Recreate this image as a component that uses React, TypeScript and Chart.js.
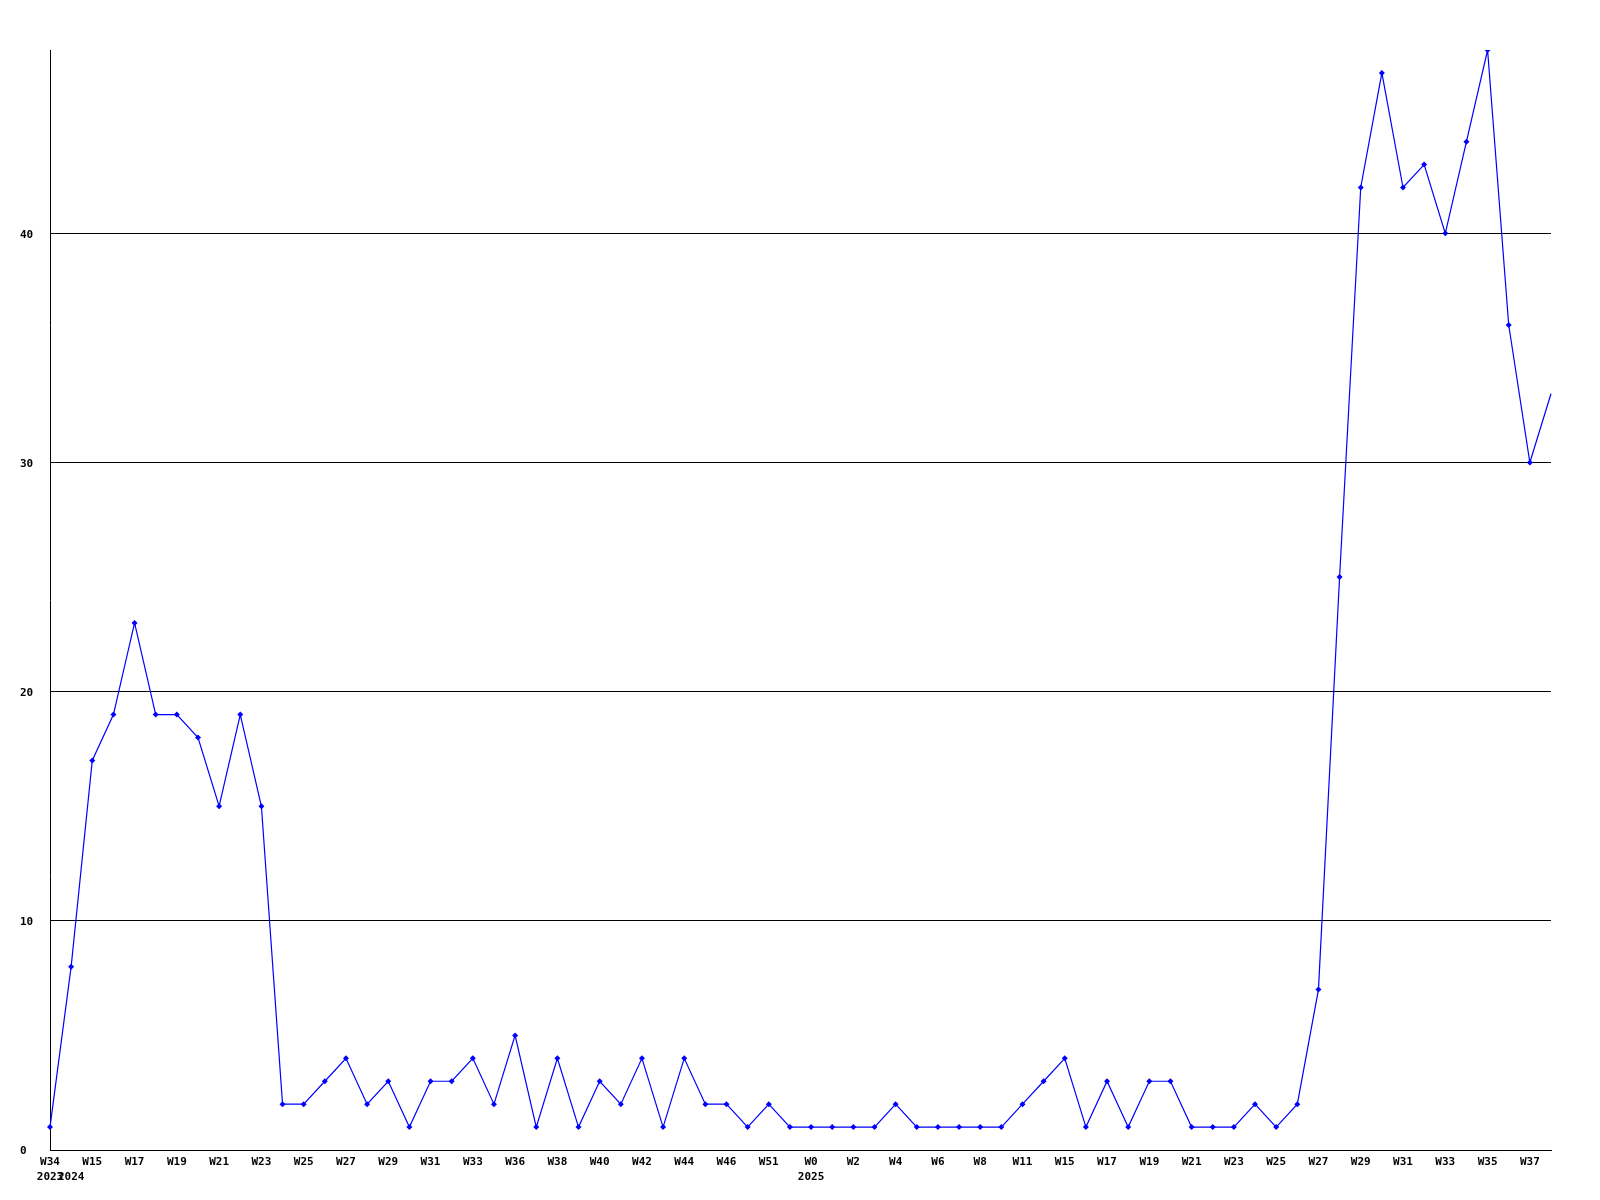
import React, { useEffect, useRef } from 'react';
import { Chart, registerables } from 'chart.js';

Chart.register(...registerables);

const weekLabels = [
  'W34', 'W14', 'W15', 'W16', 'W17', 'W18', 'W19', 'W20', 'W21', 'W22',
  'W23', 'W24', 'W25', 'W26', 'W27', 'W28', 'W29', 'W30', 'W31', 'W32',
  'W33', 'W34', 'W36', 'W37', 'W38', 'W39', 'W40', 'W41', 'W42', 'W43',
  'W44', 'W45', 'W46', 'W48', 'W51', 'W52', 'W0', 'W1', 'W2', 'W3',
  'W4', 'W5', 'W6', 'W7', 'W8', 'W10', 'W11', 'W13', 'W15', 'W16',
  'W17', 'W18', 'W19', 'W20', 'W21', 'W22', 'W23', 'W24', 'W25', 'W26',
  'W27', 'W28', 'W29', 'W30', 'W31', 'W32', 'W33', 'W34', 'W35', 'W36',
  'W37', 'W38',
];

const yearIndices = [0, 1, 36];
const yearNames = ['2023', '2024', '2025'];

const values = [
  1, 8, 17, 19, 23, 19, 19, 18, 15, 19,
  15, 2, 2, 3, 4, 2, 3, 1, 3, 3,
  4, 2, 5, 1, 4, 1, 3, 2, 4, 1,
  4, 2, 2, 1, 2, 1, 1, 1, 1, 1,
  2, 1, 1, 1, 1, 1, 2, 3, 4, 1,
  3, 1, 3, 3, 1, 1, 1, 2, 1, 2,
  7, 25, 42, 47, 42, 43, 40, 44, 48, 36,
  30, 33,
];

const yTickValues = [0, 10, 20, 30, 40];
const yMax = 48;

const FONT = { family: '"DejaVu Sans Mono", monospace', size: 11, weight: 'bold' as const, lineHeight: 1.32 };

export default function App() {
  const canvasRef = useRef<HTMLCanvasElement | null>(null);

  useEffect(() => {
    const canvas = canvasRef.current;
    if (!canvas) return;
    const chart = new Chart(canvas, {
      type: 'line',
      data: {
        labels: weekLabels,
        datasets: [
          {
            data: values,
            borderColor: '#0000ff',
            backgroundColor: '#0000ff',
            borderWidth: 1.2,
            tension: 0,
            fill: false,
            pointStyle: 'rectRot',
            pointRadius: (ctx: any) => (ctx.dataIndex === values.length - 1 ? 0 : 3),
            pointBorderWidth: 0,
            pointBackgroundColor: '#0000ff',
          },
        ],
      },
      options: {
        responsive: false,
        animation: false,
        devicePixelRatio: 1,
        layout: { padding: { left: 20, top: 50, right: 49, bottom: 0 } },
        plugins: { legend: { display: false }, tooltip: { enabled: false } },
        scales: {
          x: {
            type: 'category',
            offset: false,
            grid: { display: true, drawOnChartArea: false, drawTicks: false },
            border: { display: true, color: '#000000', width: 1 },
            afterFit: (scale: any) => {
              scale.height = 50;
            },
            ticks: {
              autoSkip: false,
              maxRotation: 0,
              minRotation: 0,
              padding: 5,
              color: '#000000',
              font: FONT,
              callback: (_value: any, index: number) => {
                const wk = index % 2 === 0 ? weekLabels[index] : '';
                const yi = yearIndices.indexOf(index);
                if (yi >= 0) return [wk, yearNames[yi]];
                return wk;
              },
            },
          },
          y: {
            type: 'linear',
            min: 0,
            max: yMax,
            afterFit: (scale: any) => {
              scale.width = 30;
            },
            afterBuildTicks: (scale: any) => {
              scale.ticks = yTickValues.map((v) => ({ value: v }));
            },
            grid: { display: true, color: '#000000', lineWidth: 1, drawTicks: false },
            border: { display: true, color: '#000000', width: 1 },
            ticks: {
              crossAlign: 'far',
              padding: 0,
              labelOffset: 1.5,
              color: '#000000',
              font: FONT,
              callback: (value: any) => String(value),
            },
          },
        },
      },
    } as any);
    return () => chart.destroy();
  }, []);

  return (
    <div style={{ position: 'absolute', left: 0, top: 0, width: 1600, height: 1200, background: '#ffffff' }}>
      <canvas ref={canvasRef} width={1600} height={1200} style={{ width: 1600, height: 1200, display: 'block' }} />
    </div>
  );
}
